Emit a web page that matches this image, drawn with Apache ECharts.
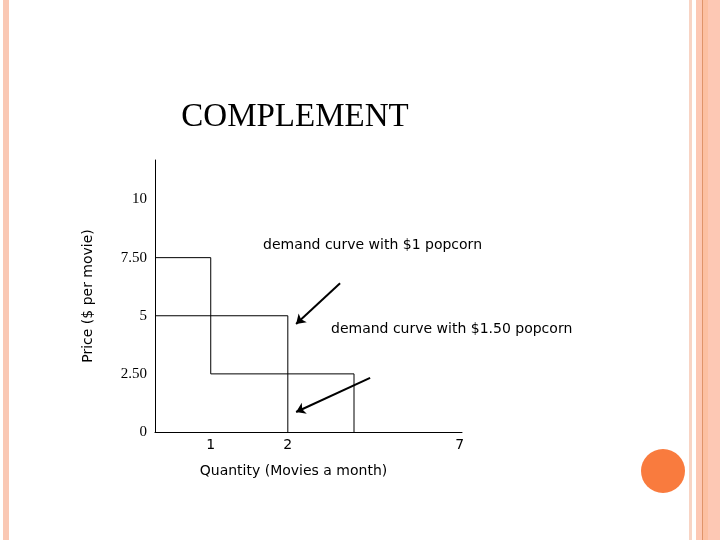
<!DOCTYPE html>
<html><head><meta charset="utf-8">
<script src="https://cdn.jsdelivr.net/npm/echarts@6/dist/echarts.min.js"></script>
<style>html,body{margin:0;padding:0;background:#fff}#c{width:720px;height:540px}</style>
</head><body><div id="c"></div>
<script>
// Quantity positions as drawn on the axis (tick "1", "2", "7")
const xTicks = [1.28, 3.05, 7];
const xTickLabels = ['1', '2', '7'];
const yTicks = [0, 2.5, 5, 7.5, 10];
const yTickLabels = ['0', '2.50', '5', '7.50', '10'];
// demand curve with $1 popcorn
const curve1 = [[0, 7.5], [1.28, 7.5], [1.28, 2.5], [4.57, 2.5], [4.57, 0]];
// demand curve with $1.50 popcorn
const curve2 = [[0, 5], [3.05, 5], [3.05, 0]];
const arrowStarts = [[4.25, 6.4], [4.94, 2.33]];
const arrowEnds = [[3.24, 4.65], [3.24, 0.86]];

const chart = echarts.init(document.getElementById('c'));
const font = 'DejaVu Sans';
const lineStyle = {color: '#000', width: 1};
chart.setOption({
  animation: false,
  backgroundColor: '#fff',
  title: {text: 'COMPLEMENT', left: 290, top: 96, textAlign: 'center',
    textStyle: {fontFamily: 'Liberation Serif', fontWeight: 'normal', fontSize: 33, color: '#000'}},
  grid: {left: 155, right: 258, top: 160, bottom: 108},
  xAxis: {type: 'value', min: 0, max: 7.05, name: 'Quantity (Movies a month)', nameLocation: 'middle', nameGap: 32,
    nameTextStyle: {fontFamily: font, fontSize: 14, color: '#000', padding: [0, 30, 0, 0]},
    axisLine: {lineStyle: {color: '#000'}}, axisTick: {show: false}, splitLine: {show: false},
    axisLabel: {customValues: xTicks, formatter: v => xTickLabels[xTicks.indexOf(v)] ?? '',
      fontFamily: font, fontSize: 14, color: '#000', margin: 6}},
  yAxis: {type: 'value', min: 0, max: 11.7, name: 'Price ($ per movie)', nameLocation: 'middle', nameGap: 60,
    nameTextStyle: {fontFamily: font, fontSize: 14, color: '#000'},
    axisLine: {lineStyle: {color: '#000'}}, axisTick: {show: false}, splitLine: {show: false},
    axisLabel: {customValues: yTicks, formatter: v => yTickLabels[yTicks.indexOf(v)] ?? '',
      fontFamily: 'Liberation Serif', fontSize: 15, color: '#000', margin: 8, align: 'right'}},
  series: [
    {type: 'line', data: curve1, symbol: 'none', lineStyle},
    {type: 'line', data: curve2, symbol: 'none', lineStyle},
    ...arrowStarts.map((s, i) => ({type: 'lines', coordinateSystem: 'cartesian2d',
      data: [{coords: [s, arrowEnds[i]]}], symbol: ['none', 'arrow'], symbolSize: 9,
      lineStyle: {color: '#000', width: 2, opacity: 1}}))
  ],
  graphic: [
    {type: 'rect', shape: {x: 3, y: 0, width: 6, height: 540}, style: {fill: '#fac8b4'}},
    {type: 'rect', shape: {x: 689, y: 0, width: 3, height: 540}, style: {fill: '#f8d4c4'}},
    {type: 'rect', shape: {x: 696, y: 0, width: 24, height: 540}, style: {fill: '#fdc8b4'}},
    {type: 'rect', shape: {x: 702, y: 0, width: 1, height: 540}, style: {fill: '#e0946a'}},
    {type: 'rect', shape: {x: 703, y: 0, width: 5, height: 540}, style: {fill: '#fcc0a2'}},
    {type: 'circle', shape: {cx: 663, cy: 471, r: 22}, style: {fill: '#f97b3e'}},
    {type: 'text', left: 263, top: 238, style: {text: 'demand curve with $1 popcorn', font: '14px DejaVu Sans', fill: '#000'}},
    {type: 'text', left: 331, top: 322, style: {text: 'demand curve with $1.50 popcorn', font: '14px DejaVu Sans', fill: '#000'}}
  ]
});
</script></body></html>
